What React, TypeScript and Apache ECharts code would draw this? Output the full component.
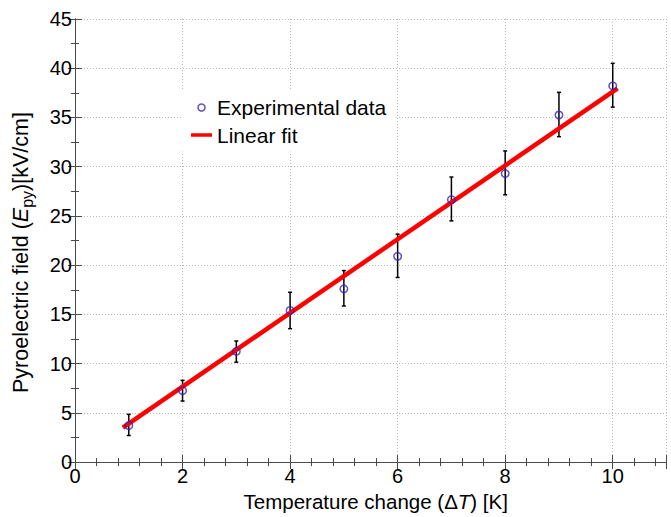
import React, { useEffect, useRef } from "react";
import * as echarts from "echarts";

const xValues = [1, 2, 3, 4, 5, 6, 7, 8, 9, 10];
const yValues = [3.7, 7.25, 11.25, 15.4, 17.6, 20.9, 26.65, 29.3, 35.25, 38.2];
const errLow = [2.7, 6.2, 10.15, 13.55, 15.85, 18.75, 24.5, 27.15, 33.05, 36.05];
const errHigh = [4.85, 8.3, 12.3, 17.25, 19.45, 23.15, 28.95, 31.6, 37.55, 40.5];
const fitX = [0.89, 10.09];
const fitY = [3.5, 37.95];

const FONT = "Liberation Sans, Arial, Helvetica, sans-serif";

export default function App() {
  const ref = useRef<HTMLDivElement>(null);
  useEffect(() => {
    if (!ref.current) return;
    const chart = echarts.init(ref.current, undefined, { renderer: "svg" });
    const scatterData = xValues.map((x, i) => [x, yValues[i]]);
    const errData = xValues.map((x, i) => [x, errLow[i], errHigh[i]]);
    const fitData = fitX.map((x, i) => [x, fitY[i]]);
    const axisColor = "#4a4a4a";
    const gridLine = { show: true, lineStyle: { color: "#b8b8b8", type: [1, 2] as any, width: 1 } };
    const xCommon = {
      type: "value" as const,
      min: 0,
      max: 11,
      interval: 2,
      axisLine: { show: true, lineStyle: { color: axisColor, width: 1 } },
      axisTick: { show: true, inside: true, length: 7, lineStyle: { color: axisColor } },
      minorTick: { show: true, splitNumber: 5, length: 4, lineStyle: { color: axisColor } },
    };
    const yCommon = {
      type: "value" as const,
      min: 0,
      max: 45,
      interval: 5,
      axisLine: { show: true, lineStyle: { color: axisColor, width: 1 } },
      axisTick: { show: true, inside: true, length: 7, lineStyle: { color: axisColor } },
      minorTick: { show: true, splitNumber: 2, length: 4, lineStyle: { color: axisColor } },
    };
    chart.setOption({
      animation: false,
      backgroundColor: "#ffffff",
      textStyle: { fontFamily: FONT },
      grid: { left: 75, right: 4.5, top: 19, bottom: 49.3, containLabel: false },
      legend: {
        orient: "vertical",
        left: 181,
        top: 91,
        padding: [6, 10, 6, 10],
        backgroundColor: "#ffffff",
        itemWidth: 21,
        itemHeight: 7,
        itemGap: 6.5,
        textStyle: { fontFamily: FONT, fontSize: 21, color: "#000", lineHeight: 20 },
        data: [
          {
            name: "Experimental data",
            icon: "circle",
            itemStyle: { color: "rgba(0,0,0,0)", borderColor: "#3d1fb8", borderWidth: 1.5 },
          },
          {
            name: "Linear fit",
            icon: "path://M0 0H21V3.5H0Z",
            itemStyle: { color: "#ff0000", borderWidth: 0 },
          },
        ],
      },
      xAxis: [
        {
          ...xCommon,
          position: "bottom",
          splitLine: gridLine,
          axisLabel: { show: true, fontSize: 20, color: "#000", margin: 4, fontFamily: FONT, showMaxLabel: false },
          name: "Temperature change (Δ{i|T}) [K]",
          nameLocation: "middle",
          nameGap: 20.5,
          nameTextStyle: {
            fontSize: 20.5,
            color: "#000",
            fontFamily: FONT,
            padding: [0, 0, 0, 10],
            rich: { i: { fontSize: 20.5, fontStyle: "italic", fontFamily: FONT, color: "#000" } },
          },
        },
        {
          ...xCommon,
          position: "top",
          splitLine: { show: false },
          axisLabel: { show: false },
        },
      ],
      yAxis: [
        {
          ...yCommon,
          position: "left",
          splitLine: gridLine,
          axisLabel: { show: true, fontSize: 20, color: "#000", margin: 3, fontFamily: FONT, padding: [5, 0, 0, 0] },
          name: "Pyroelectric field ({i|E}{sub|py})[kV/cm]",
          nameLocation: "middle",
          nameGap: 40,
          nameTextStyle: {
            fontSize: 21.5,
            color: "#000",
            fontFamily: FONT,
            padding: [0, 24, 0, 0],
            rich: {
              i: { fontSize: 21.5, fontStyle: "italic", fontFamily: FONT, color: "#000" },
              sub: { fontSize: 16, fontFamily: FONT, color: "#000", padding: [12, 0, 0, 0] },
            },
          },
        },
        {
          ...yCommon,
          position: "right",
          splitLine: { show: false },
          axisLabel: { show: false },
        },
      ],
      series: [
        {
          type: "custom",
          name: "errorbars",
          xAxisIndex: 0,
          yAxisIndex: 0,
          data: errData,
          encode: { x: 0, y: [1, 2] },
          z: 2,
          silent: true,
          renderItem: (params: any, api: any) => {
            const x = api.value(0);
            const lo = api.coord([x, api.value(1)]);
            const hi = api.coord([x, api.value(2)]);
            const cap = 2;
            const style = { stroke: "#000", lineWidth: 1.5 };
            return {
              type: "group",
              children: [
                { type: "line", shape: { x1: lo[0], y1: lo[1], x2: hi[0], y2: hi[1] }, style },
                { type: "line", shape: { x1: lo[0] - cap, y1: lo[1], x2: lo[0] + cap, y2: lo[1] }, style },
                { type: "line", shape: { x1: hi[0] - cap, y1: hi[1], x2: hi[0] + cap, y2: hi[1] }, style },
              ],
            };
          },
        },
        {
          type: "line",
          name: "Linear fit",
          data: fitData,
          showSymbol: false,
          symbol: "none",
          lineStyle: { color: "#ff0000", width: 4.5 },
          itemStyle: { color: "#ff0000" },
          z: 3,
        },
        {
          type: "scatter",
          name: "Experimental data",
          data: scatterData,
          symbol: "circle",
          symbolSize: 7.5,
          itemStyle: { color: "rgba(0,0,0,0)", borderColor: "#3d1fb8", borderWidth: 1.5 },
          z: 4,
        },
      ],
    });
    return () => chart.dispose();
  }, []);
  return <div ref={ref} style={{ width: 671, height: 517, position: "absolute", left: 0, top: 0 }} />;
}
